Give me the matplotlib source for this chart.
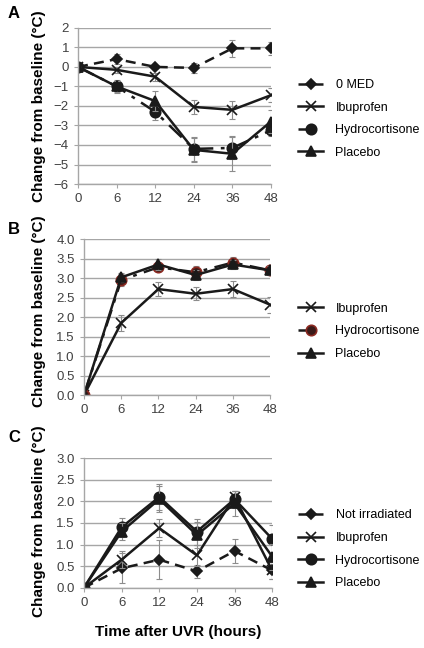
import matplotlib
matplotlib.use("Agg")
import matplotlib.pyplot as plt
import numpy as np

hours = ["0", "6", "12", "24", "36", "48"]

# Panel A
a_names = ["0 MED", "Ibuprofen", "Hydrocortisone", "Placebo"]
a_vals = [
    [0, 0.40, 0.00, -0.05, 0.95, 0.95],
    [0, -0.15, -0.50, -2.05, -2.20, -1.45],
    [0, -1.00, -2.30, -4.20, -4.15, -3.25],
    [0, -1.00, -1.75, -4.25, -4.45, -2.80],
]
a_err = [
    [0, 0.25, 0.10, 0.25, 0.45, 0.35],
    [0, 0.15, 0.20, 0.35, 0.45, 0.35],
    [0, 0.35, 0.40, 0.60, 0.55, 0.30],
    [0, 0.30, 0.50, 0.60, 0.90, 0.60],
]

# Panel B
b_names = ["Ibuprofen", "Hydrocortisone", "Placebo"]
b_vals = [
    [0, 1.85, 2.72, 2.60, 2.72, 2.32],
    [0, 2.95, 3.28, 3.15, 3.40, 3.20],
    [0, 3.02, 3.35, 3.08, 3.35, 3.20],
]
b_err = [
    [0, 0.20, 0.17, 0.17, 0.20, 0.20],
    [0, 0.15, 0.10, 0.15, 0.15, 0.10],
    [0, 0.12, 0.15, 0.12, 0.12, 0.12],
]

# Panel C
c_names = ["Not irradiated", "Ibuprofen", "Hydrocortisone", "Placebo"]
c_vals = [
    [0, 0.45, 0.65, 0.38, 0.85, 0.40],
    [0, 0.65, 1.38, 0.75, 2.10, 0.40],
    [0, 1.40, 2.10, 1.30, 2.05, 1.13],
    [0, 1.30, 2.05, 1.22, 1.95, 0.72],
]
c_err = [
    [0, 0.35, 0.45, 0.15, 0.28, 0.20],
    [0, 0.20, 0.20, 0.25, 0.15, 0.20],
    [0, 0.22, 0.30, 0.30, 0.20, 0.32],
    [0, 0.20, 0.30, 0.30, 0.30, 0.30],
]

styles = {
    "0 MED": dict(marker="D", ms=5.5, ls=(0, (4, 2.5)), mfc="#1a1a1a", mec="#1a1a1a"),
    "Not irradiated": dict(marker="D", ms=5.5, ls=(0, (4, 2.5)), mfc="#1a1a1a", mec="#1a1a1a"),
    "Ibuprofen": dict(marker="x", ms=7.5, ls="-", mfc="#1a1a1a", mec="#1a1a1a"),
    "Hydrocortisone": dict(marker="o", ms=7.5, ls=(0, (7, 3, 1.5, 3)), mfc="#1a1a1a", mec="#1a1a1a"),
    "Placebo": dict(marker="^", ms=7.5, ls="-", mfc="#1a1a1a", mec="#1a1a1a"),
}

plt.rcParams["font.family"] = ["Liberation Sans", "DejaVu Sans"]
plt.rcParams["axes.unicode_minus"] = True

fig = plt.figure(figsize=(4.24, 6.48), dpi=100)

# letter, axes rect, letter y px, label centre, legend centre, data...
panels = [
    ("A", [0.184, 0.716, 0.455, 0.241], 13, 0.50, 0.417,
     a_names, a_vals, a_err, (-6, 2), np.arange(-6, 3, 1), "{:.0f}"),
    ("B", [0.198, 0.390, 0.439, 0.241], 230, 0.54, 0.41,
     b_names, b_vals, b_err, (0, 4), np.arange(0, 4.01, 0.5), "{:.1f}"),
    ("C", [0.198, 0.093, 0.444, 0.200], 437, 0.515, 0.296,
     c_names, c_vals, c_err, (0, 3), np.arange(0, 3.01, 0.5), "{:.1f}"),
]

x = np.arange(len(hours))
for letter, rect, letter_y, lab_y, leg_y, names, vals, errs, ylim, yticks, fmt in panels:
    ax = fig.add_axes(rect)
    for name, v, e in zip(names, vals, errs):
        st = dict(styles[name])
        if letter == "B" and name == "Hydrocortisone":
            st["mec"] = "#8b2a22"
            st["mfc"] = "#3a1a18"
        if letter == "C" and name == "Hydrocortisone":
            st["ls"] = "-"
        ax.errorbar(x, v, yerr=e, fmt="none", ecolor="#8c8c8c",
                    elinewidth=0.8, capsize=2.5, capthick=0.8)
        ax.plot(x, v, color="#1a1a1a", lw=1.8, label=name,
                markeredgewidth=1.2, **st)
    ax.set_xlim(0, len(hours) - 1)
    ax.set_ylim(*ylim)
    ax.set_xticks(x)
    ax.set_xticklabels(hours)
    ax.set_yticks(yticks)
    labels = [fmt.format(t).replace("-", "\u2212") for t in yticks]
    ax.set_yticklabels(labels)
    ax.yaxis.grid(True, color="#a6a6a6", lw=1.0)
    ax.set_axisbelow(True)
    for s in ["top", "right"]:
        ax.spines[s].set_visible(False)
    for s in ["left", "bottom"]:
        ax.spines[s].set_color("#a6a6a6")
        ax.spines[s].set_linewidth(1.0)
    ax.tick_params(axis="both", colors="#a6a6a6", labelcolor="#404040",
                   labelsize=9.5, length=3, direction="out")
    ax.set_ylabel("Change from baseline (\u00b0C)", fontsize=11,
                  fontweight="bold")
    ax.yaxis.set_label_coords((46 / 424 - rect[0]) / rect[2], lab_y)
    fig.text(8 / 424, 1 - letter_y / 648, letter, fontsize=12,
             fontweight="bold", ha="left", va="center")
    leg = ax.legend(loc="center left", frameon=False, fontsize=9,
                    handlelength=2.0, labelspacing=0.85, handletextpad=1.0,
                    borderpad=0, borderaxespad=0,
                    bbox_to_anchor=(298 / 424, rect[1] + leg_y * rect[3]),
                    bbox_transform=fig.transFigure)

fig.text(0.42, 0.025, "Time after UVR (hours)", fontsize=11,
         fontweight="bold", ha="center", va="center")

fig.savefig("out.png", dpi=100)
